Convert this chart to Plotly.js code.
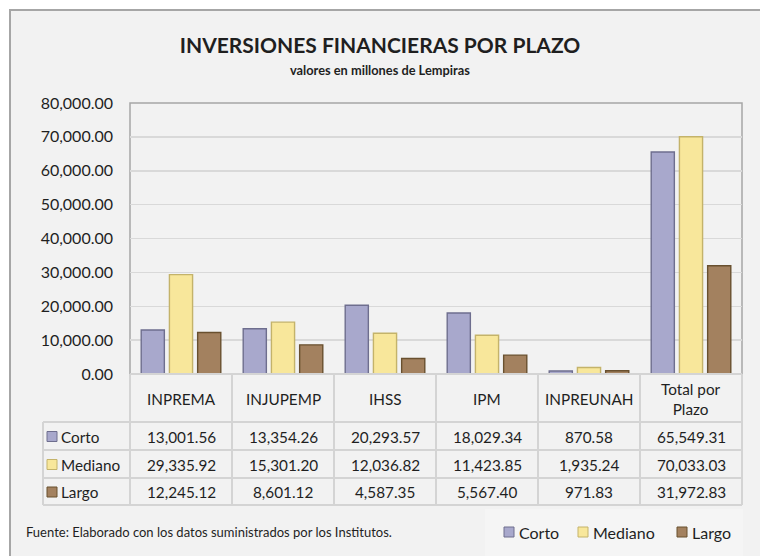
<!DOCTYPE html>
<html>
<head>
<meta charset="utf-8">
<script src="https://cdn.plot.ly/plotly-3.0.1.min.js"></script>
<style>html,body{margin:0;padding:0;background:#fff;}#chart{width:760px;height:556px;}</style>
</head>
<body>
<div id="chart"></div>
<script>
// ---- data ----
const categories = ['INPREMA', 'INJUPEMP', 'IHSS', 'IPM', 'INPREUNAH', 'Total por Plazo'];
const headerLabels = ['INPREMA', 'INJUPEMP', 'IHSS', 'IPM', 'INPREUNAH', 'Total por<br>Plazo'];
const seriesNames = ['Corto', 'Mediano', 'Largo'];
const corto   = [13001.56, 13354.26, 20293.57, 18029.34, 870.58, 65549.31];
const mediano = [29335.92, 15301.20, 12036.82, 11423.85, 1935.24, 70033.03];
const largo   = [12245.12, 8601.12, 4587.35, 5567.40, 971.83, 31972.83];
const yTickVals = [0, 10000, 20000, 30000, 40000, 50000, 60000, 70000, 80000];

// ---- styles ----
const seriesValues = [corto, mediano, largo];
const fills = ['#a8a8cc', '#f8e79b', '#a3815f'];
const edges = ['#6e6e8e', '#c4b36a', '#69502f'];
const FONT = 'Lato, "Open Sans", sans-serif';
const TXT = '#1f1f1f';
const GRID = '#d9d9d9';
const TBL = '#d4d4d4';

// plot area in pixels
const W = 760, H = 556;
const PL = 130, PR = 742, PT = 103, PB = 374;
const px = p => (p - PL) / (PR - PL);
const py = p => (PB - p) / (PB - PT);

const traces = seriesNames.map((name, s) => ({
  type: 'bar',
  name: name,
  x: categories,
  y: seriesValues[s],
  marker: {color: fills[s], line: {color: edges[s], width: 1.4}},
  hoverinfo: 'skip',
  showlegend: false
}));

const shapes = [];
const annotations = [];

// chart background frame (top + left border visible)
shapes.push({type: 'rect', xref: 'paper', yref: 'paper', layer: 'below',
  x0: px(10), x1: px(775), y0: py(575), y1: py(10),
  fillcolor: '#f2f2f2', line: {color: '#a6a6a6', width: 2}});
// legend box background
shapes.push({type: 'rect', xref: 'paper', yref: 'paper', layer: 'below',
  x0: px(485), x1: px(743), y0: py(556), y1: py(509),
  fillcolor: '#f5f5f5', line: {width: 0}});
// plot area border
shapes.push({type: 'rect', xref: 'paper', yref: 'paper', layer: 'below',
  x0: 0, x1: 1, y0: 0, y1: 1, line: {color: '#a6a6a6', width: 1.5}});

// table geometry
const rowLines = [374, 422, 450, 478, 505];
const firstColLeft = 43;
const nCat = categories.length;
for (let i = 0; i <= nCat; i++) {
  const xp = i / nCat;
  shapes.push({type: 'line', xref: 'paper', yref: 'paper', layer: 'above',
    x0: xp, x1: xp, y0: py(rowLines[0]), y1: py(rowLines[4]), line: {color: TBL, width: 2}});
}
shapes.push({type: 'line', xref: 'paper', yref: 'paper', layer: 'above',
  x0: px(firstColLeft), x1: px(firstColLeft), y0: py(rowLines[1]), y1: py(rowLines[4]), line: {color: TBL, width: 2}});
rowLines.forEach((r, k) => {
  shapes.push({type: 'line', xref: 'paper', yref: 'paper', layer: 'above',
    x0: k === 0 ? 0 : px(firstColLeft), x1: 1, y0: py(r), y1: py(r), line: {color: TBL, width: 2}});
});

// header labels
headerLabels.forEach((lab, i) => {
  annotations.push({xref: 'paper', yref: 'paper', x: (i + 0.5) / nCat, y: py(399),
    text: lab, showarrow: false, xanchor: 'center', yanchor: 'middle',
    font: {family: FONT, size: 15.3, color: TXT}});
});

const fmt = v => v.toLocaleString('en-US', {minimumFractionDigits: 2, maximumFractionDigits: 2});
seriesNames.forEach((name, s) => {
  const top = rowLines[s + 1], bot = rowLines[s + 2];
  const mid = (top + bot) / 2 + 0.5;
  shapes.push({type: 'rect', xref: 'paper', yref: 'paper', layer: 'above',
    x0: px(47), x1: px(57), y0: py(mid + 5), y1: py(mid - 5),
    fillcolor: fills[s], line: {color: edges[s], width: 1}});
  annotations.push({xref: 'paper', yref: 'paper', x: px(59), y: py(mid),
    text: name, showarrow: false, xanchor: 'left', yanchor: 'middle',
    font: {family: FONT, size: 15.3, color: TXT}});
  seriesValues[s].forEach((v, i) => {
    annotations.push({xref: 'paper', yref: 'paper', x: (i + 0.5) / nCat, y: py(mid),
      text: fmt(v), showarrow: false, xanchor: 'center', yanchor: 'middle',
      font: {family: FONT, size: 15.3, color: TXT}});
  });
});

// bottom legend
const legSq = [504, 578, 677];
legSq.forEach((x0, s) => {
  shapes.push({type: 'rect', xref: 'paper', yref: 'paper', layer: 'above',
    x0: px(x0), x1: px(x0 + 10), y0: py(537), y1: py(527),
    fillcolor: fills[s], line: {color: edges[s], width: 1}});
  annotations.push({xref: 'paper', yref: 'paper', x: px(x0 + 13), y: py(532),
    text: seriesNames[s], showarrow: false, xanchor: 'left', yanchor: 'middle',
    font: {family: FONT, size: 16, color: TXT}});
});

// source note
annotations.push({xref: 'paper', yref: 'paper', x: px(24), y: py(532),
  text: 'Fuente: Elaborado con los datos suministrados por los Institutos.',
  showarrow: false, xanchor: 'left', yanchor: 'middle',
  font: {family: FONT, size: 13, color: TXT}});

// subtitle
annotations.push({xref: 'paper', yref: 'paper', x: px(380), y: py(70),
  text: '<b>valores en millones de Lempiras</b>', showarrow: false,
  xanchor: 'center', yanchor: 'middle',
  font: {family: FONT, size: 12.8, color: TXT}});

const layout = {
  width: W, height: H,
  margin: {l: PL, r: W - PR, t: PT, b: H - PB, pad: 0},
  paper_bgcolor: '#ffffff',
  plot_bgcolor: 'rgba(0,0,0,0)',
  title: {text: '<b>INVERSIONES FINANCIERAS POR PLAZO</b>',
    font: {family: FONT, size: 21, color: TXT},
    x: 0.5, xref: 'container', xanchor: 'center',
    y: 1 - 46 / H, yref: 'container', yanchor: 'middle'},
  barmode: 'group',
  bargap: 0.17,
  bargroupgap: 0.18,
  showlegend: false,
  xaxis: {type: 'category', categoryarray: categories, showticklabels: false,
    showgrid: false, zeroline: false, showline: false, ticks: '', range: [-0.5, nCat - 0.5], fixedrange: true},
  yaxis: {range: [0, 80000], tickvals: yTickVals, tickformat: ',.2f',
    showgrid: true, gridcolor: GRID, gridwidth: 1.5, zeroline: false, showline: false,
    ticks: '', ticklabelstandoff: 16,
    tickfont: {family: FONT, size: 16, color: TXT}, fixedrange: true},
  shapes: shapes,
  annotations: annotations
};

Plotly.newPlot('chart', traces, layout, {displayModeBar: false, staticPlot: true});
</script>
</body>
</html>
